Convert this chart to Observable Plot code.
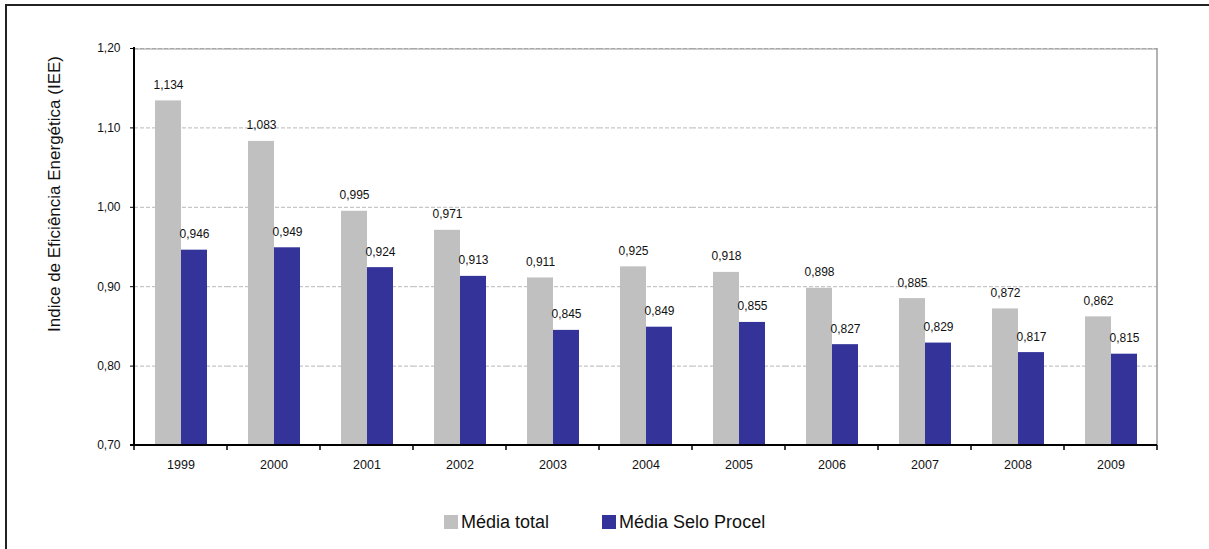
<!DOCTYPE html>
<html><head><meta charset="utf-8">
<script src="https://cdn.jsdelivr.net/npm/d3@7"></script>
<script src="https://cdn.jsdelivr.net/npm/@observablehq/plot@0.6"></script>
<style>
body{margin:0;background:#fff;font-family:"Liberation Sans",Arial,sans-serif;}
#wrap{position:relative;width:1209px;height:549px;overflow:hidden;}
#border{position:absolute;left:5px;top:4px;width:1300px;height:700px;border:2px solid #222;box-sizing:border-box;}
#chart{position:absolute;left:0;top:0;}
#legend{position:absolute;top:511px;left:444px;display:flex;align-items:center;font-size:18px;color:#111;line-height:22px;}
.item{display:flex;align-items:center;}
.sw{width:14px;height:14px;display:inline-block;margin-right:3px;}
</style></head><body>
<div id="wrap"><div id="border"></div><div id="chart"></div><div id="legend"></div></div>
<script>
const years = ["1999","2000","2001","2002","2003","2004","2005","2006","2007","2008","2009"];
const mediaTotal = [1.134,1.083,0.995,0.971,0.911,0.925,0.918,0.898,0.885,0.872,0.862];
const mediaSelo = [0.946,0.949,0.924,0.913,0.845,0.849,0.855,0.827,0.829,0.817,0.815];
const seriesNames = ["Média total","Média Selo Procel"];
const seriesColors = ["#c0c0c0","#333399"];
const yTicks = [0.7,0.8,0.9,1.0,1.1,1.2];
const gridValues = [0.8,0.9,1.0,1.1,1.2];
const yTitle = "Indice de Eficiência Energética (IEE)";

const data = years.flatMap((yr,i)=>[
  {year:yr, series:seriesNames[0], value:mediaTotal[i]},
  {year:yr, series:seriesNames[1], value:mediaSelo[i]}
]);
const comma = (v,d)=>v.toFixed(d).replace(".",",");
const font = '"Liberation Sans",Arial,sans-serif';

const chart = Plot.plot({
  width:1209, height:490,
  marginLeft:132, marginRight:50, marginTop:48, marginBottom:45,
  style:{fontFamily:font, fontSize:"12px", color:"#111", background:"transparent", overflow:"visible"},
  fx:{domain:years, paddingInner:0, paddingOuter:0, label:null, axis:null},
  x:{domain:seriesNames, paddingInner:0, paddingOuter:0.73, axis:null},
  y:{domain:[0.7,1.2]},
  color:{domain:seriesNames, range:seriesColors},
  marks:[
    Plot.ruleY(gridValues,{stroke:"#b8b8b8", strokeDasharray:"4,2", strokeWidth:1}),
    Plot.barY(data,{fx:"year", x:"series", y1:d=>0.7, y2:"value", fill:"series"}),
    Plot.text(data,{fx:"year", x:"series", y:"value", text:d=>comma(d.value,3), lineAnchor:"bottom", dy:-12, fontSize:12, fill:"#111"}),
    Plot.axisY({ticks:yTicks, tickFormat:d=>comma(d,2), tickSize:4, tickPadding:10, label:null, fontSize:12, stroke:"#000"}),
    Plot.axisFx({anchor:"bottom", tickSize:0, tickPadding:15, label:null, fontSize:12.5})
  ]
});
document.getElementById("chart").append(chart);

// frame, axis lines and boundary ticks, placed through the chart's scales
const fx = chart.scale("fx"), y = chart.scale("y");
const svg = d3.select(chart);
const x0 = fx.apply(years[0]);
const x1 = fx.apply(years[years.length-1]) + fx.bandwidth;
const yTop = y.apply(1.2), yBot = y.apply(0.7);
const g = svg.append("g");
g.append("line").attr("x1",x0).attr("x2",x1).attr("y1",yTop+1).attr("y2",yTop+1).attr("stroke","#999").attr("stroke-width",1);
g.append("line").attr("x1",x1).attr("x2",x1).attr("y1",yTop).attr("y2",yBot).attr("stroke","#999").attr("stroke-width",1.5);
g.append("line").attr("x1",x0).attr("x2",x0).attr("y1",yTop-1).attr("y2",yBot+1).attr("stroke","#000").attr("stroke-width",2);
g.append("line").attr("x1",x0-4).attr("x2",x1).attr("y1",yBot).attr("y2",yBot).attr("stroke","#000").attr("stroke-width",2);
const edges = years.map(yr=>fx.apply(yr)).concat([x1]);
g.selectAll("line.tk").data(edges).join("line").attr("class","tk")
  .attr("x1",d=>d).attr("x2",d=>d).attr("y1",yBot).attr("y2",yBot+5).attr("stroke","#000").attr("stroke-width",1.5);
svg.append("text").attr("transform",`translate(60,194) rotate(-90)`).attr("text-anchor","middle")
  .attr("font-size",17).attr("fill","#111").attr("font-family",font).text(yTitle);

// legend
const lg = d3.select("#legend");
seriesNames.forEach((s,i)=>{
  const it = lg.append("div").attr("class","item").style("margin-right", i===0 ? "53px" : "0");
  it.append("span").attr("class","sw").style("background",seriesColors[i]);
  it.append("span").text(s);
});
</script>
</body></html>
